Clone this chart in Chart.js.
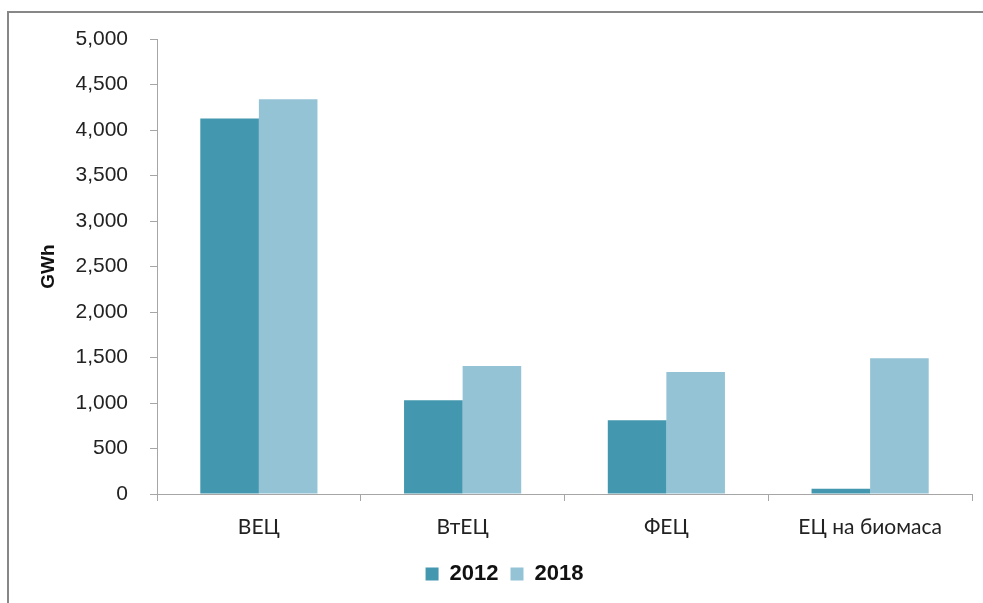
<!DOCTYPE html>
<html>
<head>
<meta charset="utf-8">
<script src="https://cdn.jsdelivr.net/npm/chart.js@4"></script>
<style>
  html, body { margin: 0; padding: 0; background: #fff; }
  #wrap { position: relative; width: 983px; height: 603px; }
  #frame { position: absolute; left: 7px; top: 11px; right: -5px; bottom: -5px;
           border-left: 2px solid #878787; border-top: 2px solid #878787; }
  #grafico { position: absolute; left: 0; top: 0; }
</style>
</head>
<body>
<div id="wrap">
  <div id="frame"></div>
  <canvas id="grafico" width="983" height="603"></canvas>
</div>
<script>
const categorias = ['ВЕЦ', 'ВтЕЦ', 'ФЕЦ', 'ЕЦ на биомаса'];
const valores2012 = [4126, 1031, 811, 58];
const valores2018 = [4339, 1407, 1341, 1491];
const anos = ['2012', '2018'];

new Chart(document.getElementById('grafico'), {
    type: 'bar',
    data: {
        labels: categorias,
        datasets: [
            {
                label: anos[0],
                data: valores2012,
                backgroundColor: '#4397ae',
                categoryPercentage: 0.575,
                barPercentage: 1
            },
            {
                label: anos[1],
                data: valores2018,
                backgroundColor: '#93c3d5',
                categoryPercentage: 0.575,
                barPercentage: 1
            }
        ]
    },
    options: {
        responsive: false,
        animation: false,
        layout: { padding: { left: 37, top: 39, right: 11, bottom: 8 } },
        plugins: {
            legend: {
                position: 'bottom',
                labels: {
                    boxWidth: 13,
                    boxHeight: 13,
                    padding: 12,
                    color: '#111',
                    font: { family: 'Liberation Sans', size: 22, weight: 'bold' }
                }
            },
            tooltip: { enabled: false }
        },
        scales: {
            y: {
                min: 0,
                max: 5000,
                ticks: {
                    stepSize: 500,
                    padding: 22,
                    color: '#222',
                    font: { family: 'Liberation Sans', size: 21 },
                    callback: v => v.toLocaleString('en-US')
                },
                grid: { drawOnChartArea: false, tickLength: 7, color: '#a6a6a6' },
                border: { color: '#a6a6a6' },
                title: {
                    display: true,
                    text: 'GWh',
                    color: '#111',
                    font: { family: 'Liberation Sans', size: 19, weight: 'bold' },
                    padding: 0
                },
                afterFit: scale => { scale.width = 120; }
            },
            x: {
                ticks: {
                    padding: 14,
                    color: '#222',
                    font: { family: 'Lato', size: 21 }
                },
                grid: { drawOnChartArea: false, tickLength: 7, color: '#a6a6a6', offset: true },
                border: { color: '#a6a6a6' },
                afterFit: scale => { scale.height = 57; }
            }
        }
    }
});
</script>
</body>
</html>
